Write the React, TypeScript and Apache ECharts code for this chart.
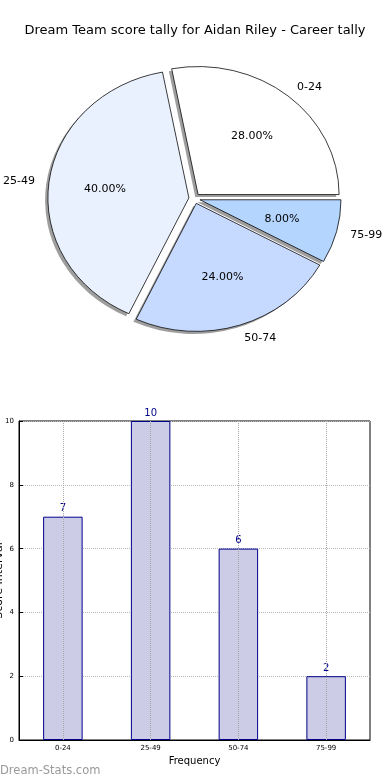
import React, { useEffect, useRef } from 'react';
import * as echarts from 'echarts';

const titleText = 'Dream Team score tally for Aidan Riley - Career tally';
const categories = ['0-24', '25-49', '50-74', '75-99'];
const counts = [7, 10, 6, 2];
const sliceColors = ['#ffffff', '#eaf1fe', '#c6d9fe', '#b4d5fe'];
const yMin = 0;
const yMax = 10;
const yInterval = 2;
const xName = 'Frequency';
const yName = 'Score Interval';
const watermark = 'Dream-Stats.com';

export default function App() {
  const ref = useRef<HTMLDivElement>(null);
  useEffect(() => {
    const chart = echarts.init(ref.current!, null, { renderer: 'svg' });
    const font = 'DejaVu Sans';
    const total = counts.reduce((a, b) => a + b, 0);
    // pie geometry (elliptical, like the matplotlib original)
    const cx = 194.5, cy = 198.5, rx = 141, ry = 128, explode = 0.04, shadow = 0.02;

    const renderItem = (params: any, api: any) => {
      const i = params.dataIndex;
      const v = api.value(0);
      let before = 0;
      for (let j = 0; j < i; j++) before += counts[j];
      const a1 = (before / total) * Math.PI * 2;
      const a2 = ((before + v) / total) * Math.PI * 2;
      const mid = (a1 + a2) / 2;
      const c = Math.cos(mid), s = Math.sin(mid);
      const tx = cx + explode * rx * c;
      const ty = cy - explode * ry * s;
      const shape = { cx: 0, cy: 0, r: rx, r0: 0, startAngle: -a2, endAngle: -a1, clockwise: true };
      return {
        type: 'group',
        children: [
          {
            type: 'sector', x: tx - shadow * rx, y: ty + shadow * ry, scaleY: ry / rx,
            shape, style: { fill: 'rgba(0,0,0,0.38)' }, silent: true,
          },
          {
            type: 'sector', x: tx, y: ty, scaleY: ry / rx,
            shape, style: { fill: sliceColors[i], stroke: '#000', lineWidth: 0.8, strokeNoScale: true },
          },
          {
            type: 'text', x: tx + 0.6 * rx * c, y: ty - 0.6 * ry * s,
            style: {
              text: ((v / total) * 100).toFixed(2) + '%', align: 'center', verticalAlign: 'middle',
              fontFamily: font, fontSize: 11, fill: '#000',
            },
          },
          {
            type: 'text', x: tx + 1.1 * rx * c, y: ty - 1.1 * ry * s,
            style: {
              text: categories[i], align: c >= 0 ? 'left' : 'right', verticalAlign: 'middle',
              fontFamily: font, fontSize: 11, fill: '#000',
            },
          },
        ],
      };
    };

    chart.setOption({
      animation: false,
      textStyle: { fontFamily: font },
      title: {
        text: titleText, left: 'center', top: 23, padding: 0,
        textStyle: { fontSize: 13, fontWeight: 'normal', color: '#000', fontFamily: font },
      },
      grid: {
        left: 19, right: 20, top: 421, bottom: 40, show: true, borderColor: '#000', borderWidth: 1,
        containLabel: false, outerBoundsMode: 'none',
      },
      xAxis: {
        type: 'category', data: categories,
        name: xName, nameLocation: 'middle', nameGap: 15, nameMoveOverlap: false,
        nameTextStyle: { fontSize: 10, color: '#000', fontFamily: font },
        axisLine: { lineStyle: { color: '#000' } },
        axisTick: { show: false },
        axisLabel: { fontSize: 7, color: '#000', margin: 4, fontFamily: font },
        splitLine: { show: false },
      },
      yAxis: {
        type: 'value', min: yMin, max: yMax, interval: yInterval,
        name: yName, nameLocation: 'middle', nameGap: 15, nameMoveOverlap: false,
        nameTextStyle: { fontSize: 11, color: '#000', fontFamily: font },
        axisLine: { show: true, lineStyle: { color: '#000' } },
        axisTick: { show: true, inside: true, length: 4, lineStyle: { color: '#000' } },
        axisLabel: { fontSize: 7, color: '#000', margin: 5, fontFamily: font },
        splitLine: { show: true, lineStyle: { type: 'dotted', color: '#b8b8b8', width: 1 } },
      },
      series: [
        { type: 'custom', coordinateSystem: 'none', data: counts, renderItem },
        {
          type: 'bar', data: counts, barWidth: '45%',
          itemStyle: { color: '#cccce6', borderColor: '#00008b', borderWidth: 1 },
          label: { show: true, position: 'top', distance: 4, color: '#00008b', fontSize: 10, fontFamily: font },
          markLine: {
            silent: true, symbol: 'none', label: { show: false },
            lineStyle: { type: 'dotted', color: '#a8a8a8', width: 1 },
            data: categories.map((c) => ({ xAxis: c })),
          },
        },
      ],
      graphic: [
        {
          type: 'text', left: 0, top: 764,
          style: { text: watermark, fontFamily: font, fontSize: 11.5, fill: '#999' },
        },
      ],
    });
    return () => chart.dispose();
  }, []);
  return <div ref={ref} style={{ position: 'fixed', left: 0, top: 0, width: 390, height: 780 }} />;
}
